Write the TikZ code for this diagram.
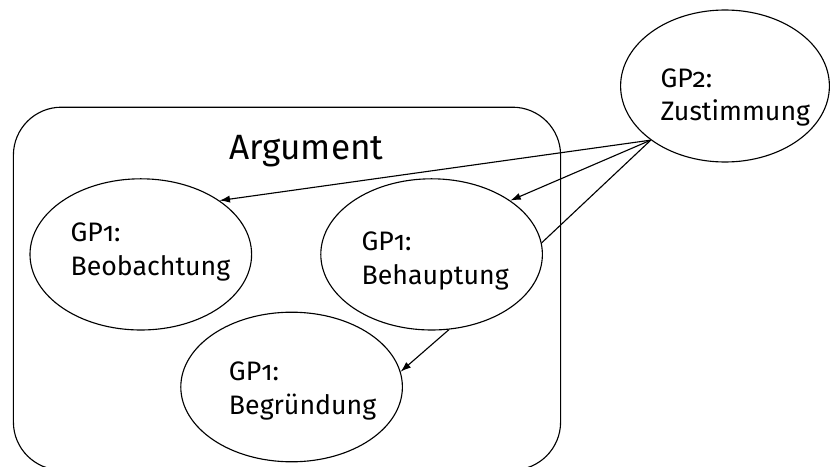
\documentclass[tikz,border=0pt]{standalone}
\usepackage{fontspec}
\setmainfont{Fira Sans}[Numbers=OldStyle]
\usetikzlibrary{arrows.meta, shapes.geometric}

\begin{document}
\begin{tikzpicture}[line width=0.8pt,
  blase/.style={draw, ellipse, inner sep=0pt, minimum width=5.54cm, minimum height=3.78cm},
  txt/.style={align=left, anchor=base west, inner sep=0pt, font=\fontsize{19}{24}\selectfont},
  pfeil/.style={-{Latex[length=2.6mm, width=1.8mm]}}]
  \useasboundingbox (0,0) rectangle (20.75,11.65);
  % Rahmen
  \draw[rounded corners=1.2cm] (0.335,-0.1) rectangle (14.015,8.97);
  \node[anchor=base, inner sep=0pt, font=\fontsize{25}{30}\selectfont] (titel) at (7.66,7.675) {Argument};

  % Blasen
  \node[blase] (beob) at (3.52,5.29) {};
  \node[blase] (behaupt) at (10.79,5.29) {};
  \node[blase, minimum height=3.74cm] (begr) at (7.29,1.975) {};
  \node[blase, minimum width=5.22cm, minimum height=3.8cm] (zust) at (18.125,9.5) {};

  % Texte, Anker auf der unteren Zeile
  \node[txt] (beobtxt) at (1.75,4.76) {GP1:\\Beobachtung};
  \node[txt] (behaupttxt) at (9.025,4.55) {GP1:\\Behauptung};
  \node[txt] (begrtxt) at (5.71,1.3) {GP1:\\Begründung};
  \node[txt] (zusttxt) at (16.5,8.63) {GP2:\\Zustimmung};

  % Verbindungen
  \draw[pfeil] (zust.south west) -- (beob.north east);
  \draw[pfeil] (zust.south west) -- (behaupt.north east);
  \draw (zust.south west) -- (behaupt.6);
  \draw[pfeil] (behaupt.-77) -- (begr.8);
\end{tikzpicture}
\end{document}
